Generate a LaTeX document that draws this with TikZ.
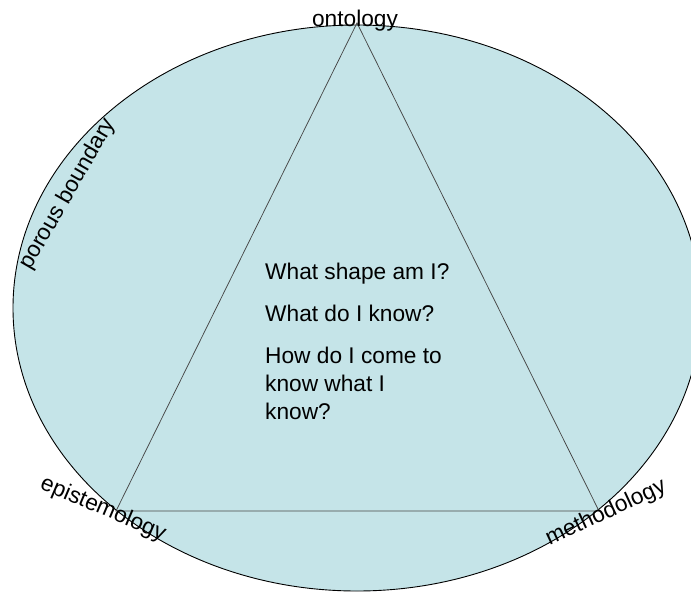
\documentclass[tikz,border=0pt]{standalone}
\usepackage{fontspec}
\setmainfont{Liberation Sans}
\definecolor{poolblue}{RGB}{197,228,232}
\definecolor{edgegray}{RGB}{70,70,70}
\begin{document}
\begin{tikzpicture}[x=1pt,y=-1pt,
  lbl/.style={font=\fontsize{22.7}{28}\selectfont, inner sep=0pt, text=black},
  rim/.style={draw=black, line width=0.9pt, fill=poolblue},
  side/.style={draw=edgegray, line width=0.75pt}]
\useasboundingbox (0,0) rectangle (691,592);
\clip (0,0) rectangle (691,592);
\draw[rim] (357,308) ellipse [x radius=344, y radius=283];
\coordinate (top) at (357,23);
\coordinate (bl) at (116,511);
\coordinate (br) at (599,511);
\draw[side] (top) -- (bl) -- (br) -- cycle;
\node[lbl, anchor=base] (onto) at (355,26) {ontology};
\node[lbl, rotate=-23] (epis) at (103,509) {epistemology};
\node[lbl, rotate=25] (meth) at (606,513) {methodology};
\node[lbl, rotate=60] (poro) at (68,194) {porous boundary};
\node[lbl, anchor=base west, align=left] (qs) at (265,419)
  {What shape am I?\\[14pt]What do I know?\\[14pt]How do I come to\\know what I\\know?};
\end{tikzpicture}
\end{document}
